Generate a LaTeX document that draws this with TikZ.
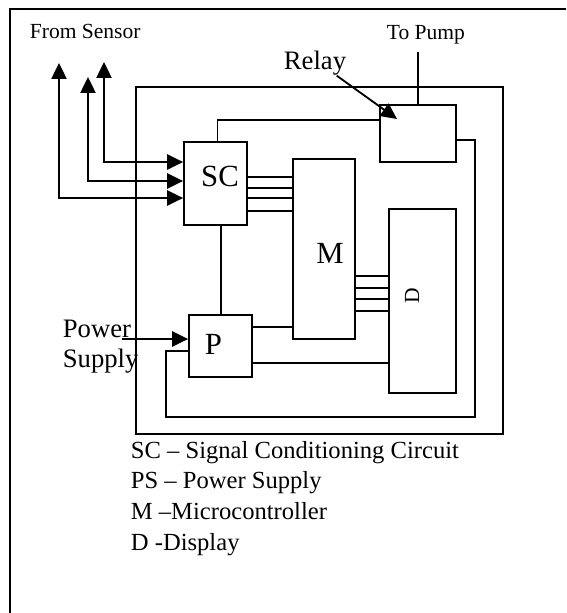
\documentclass[tikz,border=0pt]{standalone}
\usepackage{fontspec}
\setmainfont{Liberation Serif}
\usetikzlibrary{arrows.meta,positioning,calc}

\begin{document}
\begin{tikzpicture}[x=0.4878pt, y=-0.4878pt, line width=0.9pt,
  blk/.style n args={2}{rectangle, draw, line width=0.9pt, minimum width=#1, minimum height=#2, inner sep=0pt},
  big/.style={font=\fontsize{15}{17}\selectfont, inner sep=0pt},
  lbl/.style={font=\fontsize{13}{14.6}\selectfont, inner sep=0pt},
  small/.style={font=\fontsize{10.5}{12}\selectfont, inner sep=0pt},
  arr/.style={-{Triangle[length=7.8pt, width=7.4pt]}},
  both/.style={{Triangle[length=7.8pt, width=7.4pt]}-{Triangle[length=7.8pt, width=7.4pt]}}
]
  \useasboundingbox (0,0) rectangle (566,613);

  % frames
  \draw (10,613) -- (10,9) -- (566,9);
  \draw (136,87) rectangle (503,434);

  % blocks
  \node[blk={30.7pt}{40.5pt}] (SC) at (215.5,183.5) {};
  \node[blk={30.2pt}{87.8pt}] (M) at (324,249) {};
  \node[blk={32.7pt}{89.8pt}] (D) at (422.5,301) {};
  \node[blk={30.7pt}{30.2pt}] (P) at (220.5,346) {};
  \node[blk={37.1pt}{27.8pt}] (relay) at (418,133.5) {};

  \node[big, anchor=base] (sclbl) at (220,186) {SC};
  \node[big, anchor=base] (mlbl) at (330,263) {M};
  \node[big, anchor=base] (plbl) at (213.5,354) {P};
  \node[small, rotate=90] (dlbl) at (412,296) {D};

  % labels
  \node[small, anchor=base west] (sensor) at (29,38) {From Sensor};
  \node[small, anchor=base west] (pump) at (386,39) {To Pump};
  \node[lbl, anchor=base west] (rlbl) at (283,69) {Relay};
  \node[lbl, anchor=west, align=left] (pslbl) at (62,347) {Power\\Supply};

  % sensor inputs
  \coordinate (t1) at (59,63);
  \coordinate (t2) at (88,77);
  \coordinate (t3) at (104,62);
  \draw[both] (t1) |- (SC.west |- 0,198);
  \draw[both] (t2) |- (SC.west |- 0,181);
  \draw[both] (t3) |- (SC.west |- 0,162);

  % buses
  \foreach \yy in {177,188,198,211}
    \draw (SC.east |- 0,\yy) -- (M.west |- 0,\yy);
  \foreach \yy in {276,288,299,311}
    \draw (M.east |- 0,\yy) -- (D.west |- 0,\yy);

  % wiring
  \draw (220.7,0 |- SC.south) -- (220.7,0 |- P.north);
  \draw (217.5,0 |- SC.north) |- (relay.west |- 0,120);
  \draw (relay.north) -- (relay.north |- 0,52);
  \draw (P.east |- 0,327) -- (M.west |- 0,327);
  \draw (P.east |- 0,363) -- (D.west |- 0,363);
  \draw (relay.east |- 0,140) -| (475,417) -| (166,351) -- (P.west |- 0,351);

  \coordinate (rtip) at (397,119);
  \draw[arr] ([xshift=-5pt]rlbl.south east) -- (rtip);
  \coordinate (pin) at (122,339);
  \draw[arr] (pin) -- (P.west |- pin);

  % legend
  \foreach \yy/\txt [count=\i] in {458/SC – Signal Conditioning Circuit, 488/PS – Power Supply, 519/M –Microcontroller, 550/D -Display}
    \node[font=\fontsize{12}{15}\selectfont, inner sep=0pt, anchor=base west] (leg\i) at (130,\yy) {\txt};
\end{tikzpicture}
\end{document}
